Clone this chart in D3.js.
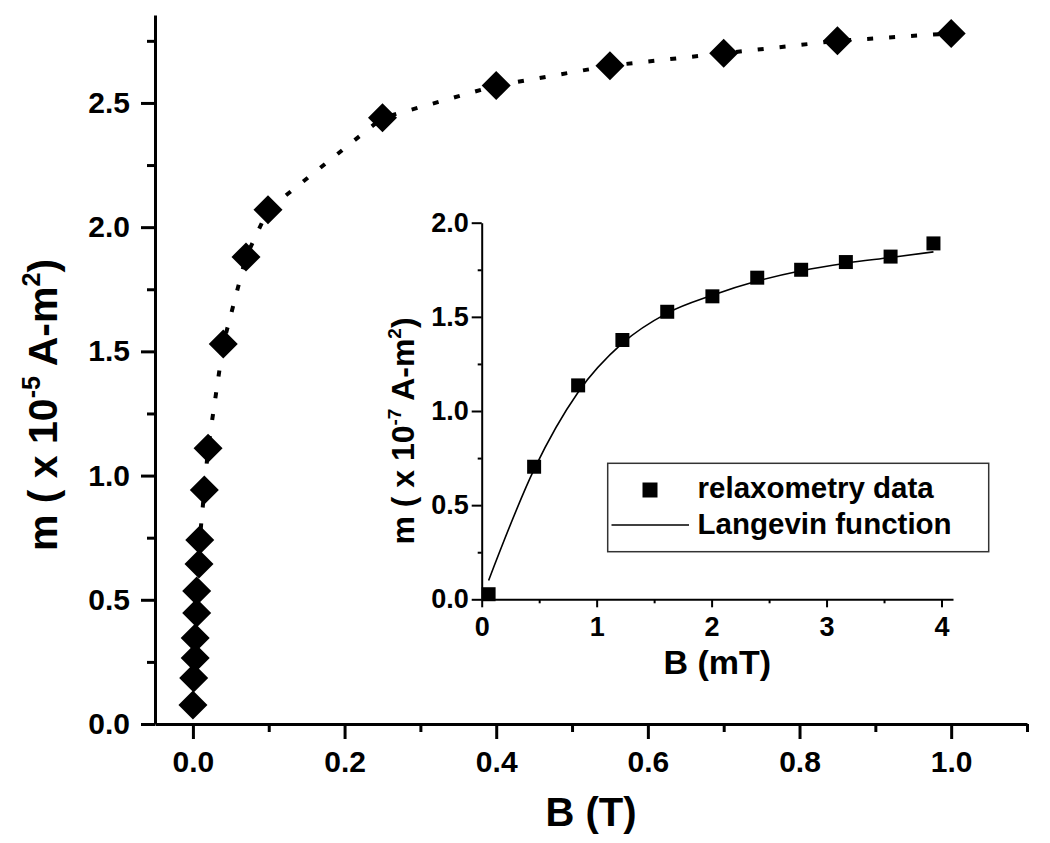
<!DOCTYPE html>
<html>
<head>
<meta charset="utf-8">
<script src="https://cdn.jsdelivr.net/npm/d3@7"></script>
<style>
  html, body { margin: 0; padding: 0; background: #fff; }
  svg { display: block; }
  text { font-family: "Liberation Sans", Arial, sans-serif; font-weight: bold; fill: #000; }
</style>
</head>
<body>
<svg id="chart" width="1050" height="843"></svg>
<script>
// ---------- data ----------
// main: magnetic moment vs field (T)
const mainB = [0.000, 0.001, 0.003, 0.003, 0.005, 0.005, 0.008, 0.009, 0.015, 0.020, 0.040, 0.070, 0.099, 0.25, 0.40, 0.55, 0.70, 0.85, 1.00];
const mainM = [0.076, 0.185, 0.266, 0.346, 0.447, 0.535, 0.644, 0.741, 0.942, 1.11, 1.53, 1.88, 2.07, 2.44, 2.57, 2.65, 2.70, 2.75, 2.78];
const mainXTicks = [0.0, 0.2, 0.4, 0.6, 0.8, 1.0];
const mainXMinor = [0.1, 0.3, 0.5, 0.7, 0.9, 1.1];
const mainYTicks = [0.0, 0.5, 1.0, 1.5, 2.0, 2.5];
const mainYMinor = [0.25, 0.75, 1.25, 1.75, 2.25, 2.75];

// inset: relaxometry data (mT)
const insetB = [0.06, 0.456, 0.839, 1.224, 1.614, 2.007, 2.397, 2.779, 3.168, 3.557, 3.93];
const insetM = [0.027, 0.704, 1.136, 1.377, 1.527, 1.609, 1.708, 1.750, 1.791, 1.820, 1.890];
// Langevin fit curve values
const fitB = [0.06, 0.456, 0.839, 1.224, 1.614, 2.007, 2.397, 2.779, 3.168, 3.557, 3.93];
const fitM = [0.10, 0.69, 1.10, 1.36, 1.52, 1.615, 1.69, 1.745, 1.785, 1.815, 1.845];
const insetXTicks = [0, 1, 2, 3, 4];
const insetXMinor = [0.5, 1.5, 2.5, 3.5];
const insetYTicks = [0.0, 0.5, 1.0, 1.5, 2.0];
const insetYMinor = [0.25, 0.75, 1.25, 1.75];
const legendLabels = ["relaxometry data", "Langevin function"];

// ---------- setup ----------
const svg = d3.select("#chart");

function styleAxis(g, fontSize, sw) {
  g.attr("font-family", null).attr("font-size", null);
  g.selectAll("text").attr("font-size", fontSize).attr("font-weight", "bold").attr("fill", "#000");
  g.selectAll("line").attr("stroke", "#000").attr("stroke-width", sw);
  g.selectAll("path.domain").attr("stroke", "#000").attr("stroke-width", sw);
}

// ---------- main chart ----------
const x = d3.scaleLinear().domain([-0.05, 1.1]).range([155, 1027]);
const y = d3.scaleLinear().domain([0, 2.854]).range([724, 15]);

// minor ticks
svg.append("g").attr("transform", `translate(0,${y(0)})`)
  .call(d3.axisBottom(x).tickValues(mainXMinor).tickSize(8).tickSizeOuter(0).tickFormat(""))
  .call(g => { styleAxis(g, 30, 3); g.select(".domain").remove(); });
svg.append("g").attr("transform", `translate(${x(-0.05)},0)`)
  .call(d3.axisLeft(y).tickValues(mainYMinor).tickSize(8).tickSizeOuter(0).tickFormat(""))
  .call(g => { styleAxis(g, 30, 3); g.select(".domain").remove(); });
// major
svg.append("g").attr("transform", `translate(0,${y(0)})`)
  .call(d3.axisBottom(x).tickValues(mainXTicks).tickSize(15).tickSizeOuter(0).tickPadding(12).tickFormat(d3.format(".1f")))
  .call(g => styleAxis(g, 30, 3));
svg.append("g").attr("transform", `translate(${x(-0.05)},0)`)
  .call(d3.axisLeft(y).tickValues(mainYTicks).tickSize(14).tickSizeOuter(0).tickPadding(11).tickFormat(d3.format(".1f")))
  .call(g => styleAxis(g, 30, 3));

const mainPts = mainB.map((b, i) => [b, mainM[i]]);
svg.append("path")
  .datum(mainPts)
  .attr("fill", "none")
  .attr("stroke", "#000")
  .attr("stroke-width", 4)
  .attr("stroke-dasharray", "6 16")
  .attr("d", d3.line().x(d => x(d[0])).y(d => y(d[1])));

const diamond = {
  draw(ctx, size) {
    const r = Math.sqrt(size / 2);
    ctx.moveTo(0, -r); ctx.lineTo(r, 0); ctx.lineTo(0, r); ctx.lineTo(-r, 0); ctx.closePath();
  }
};
svg.append("g").selectAll("path").data(mainPts).join("path")
  .attr("transform", d => `translate(${x(d[0])},${y(d[1])})`)
  .attr("d", d3.symbol().type(diamond).size(2 * 14.5 * 14.5))
  .attr("fill", "#000");

// axis titles
svg.append("text")
  .attr("x", (x(-0.05) + x(1.1)) / 2).attr("y", 826)
  .attr("text-anchor", "middle").attr("font-size", 40)
  .text("B (T)");

const yt = svg.append("text")
  .attr("transform", "translate(57,405) rotate(-90)")
  .attr("text-anchor", "middle").attr("font-size", 41);
yt.append("tspan").text("m ( x 10");
yt.append("tspan").attr("font-size", 25).attr("dy", -17).text("-5");
yt.append("tspan").attr("dy", 17).text(" A-m");
yt.append("tspan").attr("font-size", 25).attr("dy", -17).text("2");
yt.append("tspan").attr("dy", 17).text(")");

// ---------- inset ----------
const ix = d3.scaleLinear().domain([0, 4.1]).range([481.7, 953]);
const iy = d3.scaleLinear().domain([0, 2]).range([599.3, 222.7]);

svg.append("g").attr("transform", `translate(0,${iy(0)})`)
  .call(d3.axisBottom(ix).tickValues(insetXMinor).tickSize(4).tickSizeOuter(0).tickFormat(""))
  .call(g => { styleAxis(g, 27, 2); g.select(".domain").remove(); });
svg.append("g").attr("transform", `translate(${ix(0)},0)`)
  .call(d3.axisLeft(iy).tickValues(insetYMinor).tickSize(4).tickSizeOuter(0).tickFormat(""))
  .call(g => { styleAxis(g, 27, 2); g.select(".domain").remove(); });
svg.append("g").attr("transform", `translate(0,${iy(0)})`)
  .call(d3.axisBottom(ix).tickValues(insetXTicks).tickSize(8).tickSizeOuter(0).tickPadding(10).tickFormat(d3.format("d")))
  .call(g => styleAxis(g, 27, 2));
svg.append("g").attr("transform", `translate(${ix(0)},0)`)
  .call(d3.axisLeft(iy).tickValues(insetYTicks).tickSize(10).tickSizeOuter(0).tickPadding(3).tickFormat(d3.format(".1f")))
  .call(g => styleAxis(g, 27, 2));

const fitPts = fitB.map((b, i) => [b, fitM[i]]);
svg.append("path")
  .datum(fitPts)
  .attr("fill", "none").attr("stroke", "#000").attr("stroke-width", 1.6)
  .attr("d", d3.line().curve(d3.curveMonotoneX).x(d => ix(d[0])).y(d => iy(d[1])));

const insetPts = insetB.map((b, i) => [b, insetM[i]]);
svg.append("g").selectAll("path").data(insetPts).join("path")
  .attr("transform", d => `translate(${ix(d[0])},${iy(d[1])})`)
  .attr("d", d3.symbol().type(d3.symbolSquare).size(14 * 14))
  .attr("fill", "#000");

svg.append("text")
  .attr("x", (ix(0) + ix(4.1)) / 2).attr("y", 674)
  .attr("text-anchor", "middle").attr("font-size", 34)
  .text("B (mT)");

const iyt = svg.append("text")
  .attr("transform", "translate(414,431) rotate(-90)")
  .attr("text-anchor", "middle").attr("font-size", 32);
iyt.append("tspan").text("m ( x 10");
iyt.append("tspan").attr("font-size", 19).attr("dy", -13).text("-7");
iyt.append("tspan").attr("dy", 13).text(" A-m");
iyt.append("tspan").attr("font-size", 19).attr("dy", -13).text("2");
iyt.append("tspan").attr("dy", 13).text(")");

// legend
const lg = svg.append("g");
lg.append("rect").attr("x", 607.7).attr("y", 463.3).attr("width", 381).attr("height", 88.4)
  .attr("fill", "#fff").attr("stroke", "#333").attr("stroke-width", 1.5);
lg.append("path").attr("transform", "translate(650,490)")
  .attr("d", d3.symbol().type(d3.symbolSquare).size(15 * 15)).attr("fill", "#000");
lg.append("line").attr("x1", 611.5).attr("x2", 689).attr("y1", 525).attr("y2", 525)
  .attr("stroke", "#000").attr("stroke-width", 1.6);
lg.append("text").attr("x", 697.6).attr("y", 498).attr("font-size", 29.5).text(legendLabels[0]);
lg.append("text").attr("x", 697.6).attr("y", 534).attr("font-size", 29.5).text(legendLabels[1]);
</script>
</body>
</html>
